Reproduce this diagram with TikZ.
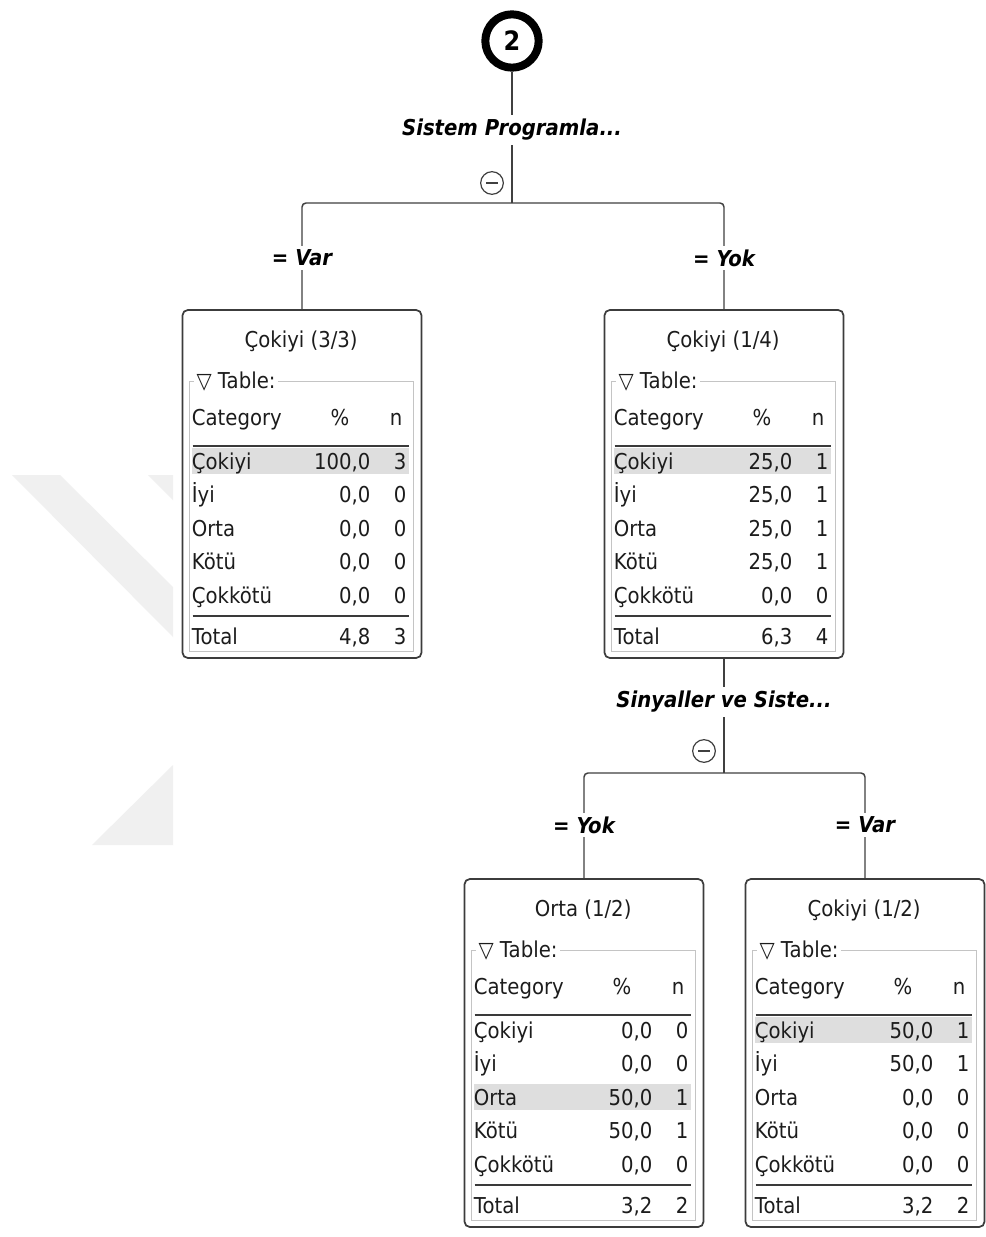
\documentclass[tikz,border=0pt]{standalone}
\usepackage{fontspec}
\setmainfont{DejaVu Sans}[FakeStretch=0.9]
\usetikzlibrary{calc}
\definecolor{txt}{HTML}{1C1C1C}
\definecolor{boxc}{HTML}{3C3C3C}
\definecolor{fsc}{HTML}{C4C4C4}
\definecolor{hlc}{HTML}{DEDEDE}
\definecolor{rulec}{HTML}{3A3A3A}
\definecolor{wmc}{HTML}{F0F0F0}
\definecolor{conc}{HTML}{404040}
\tikzset{
 every node/.style={inner sep=0pt, text=txt},
 bodyf/.style={font=\fontsize{16.4}{19}\selectfont},
 labf/.style={font=\fontsize{16.4}{19}\selectfont\bfseries\itshape, fill=white, inner sep=3pt, text=black},
 leaf/.style={draw=boxc, line width=1.3pt, rounded corners=4pt, minimum width=179.25pt, minimum height=261pt, fill=white},
 conn/.style={draw=conc, line width=1.1pt},
 fsline/.style={draw=fsc, line width=0.8pt},
 rulel/.style={draw=rulec, line width=1.3pt},
 minusc/.style={circle, draw=conc, line width=0.9pt, minimum size=17pt},
}
% box decoration: name, title, highlighted row
\newcommand{\leafhead}[3]{%
 \begin{scope}[shift={(#1.north west)}]
  \pgfmathsetmacro\hy{152+33.5*(#3-1)}
  \fill[hlc] (10,{\hy-13}) rectangle (227,{\hy+13});
  \node[bodyf] (#1-t) at (119.5,32) {#2};
  \draw[fsline] (8,72) -- (8,342) -- (232,342) -- (232,72) -- cycle;
  \node[bodyf, anchor=west, fill=white, inner xsep=2pt, inner ysep=1pt] (#1-lg) at (12,72) {▽ Table:};
  \node[bodyf, anchor=base west] (#1-hc) at (10,116) {Category};
  \node[bodyf, anchor=base east] (#1-hp) at (168,116) {\%};
  \node[bodyf, anchor=base east] (#1-hn) at (221,116) {n};
  \draw[rulel] (11,137) -- (227,137);
  \draw[rulel] (11,307) -- (227,307);
 \end{scope}}
% row: name, id, baseline y, label, pct, n
\newcommand{\lrow}[6]{%
 \begin{scope}[shift={(#1.north west)}]
  \node[bodyf, anchor=base west] (#1-a#2) at (10,#3) {#4};
  \node[bodyf, anchor=base east] (#1-b#2) at (189,#3) {#5};
  \node[bodyf, anchor=base east] (#1-c#2) at (225,#3) {#6};
 \end{scope}}
\begin{document}
\begin{tikzpicture}[x=0.75pt,y=-0.75pt]
\useasboundingbox (0,0) rectangle (985,1237);
\fill[white] (0,0) rectangle (985,1237);
% watermark
\fill[wmc] (12,475) -- (60,475) -- (173,587) -- (173,637) -- cycle;
\fill[wmc] (148,475) -- (173,475) -- (173,500) -- cycle;
\fill[wmc] (173,765) -- (173,845) -- (92,845) -- cycle;

% root
\node[circle, draw=black, line width=6pt, minimum size=40pt, font=\fontsize{20}{24}\selectfont\bfseries, text=black] (c2) at (512,41) {2};
\coordinate (s1) at (512,203);
\coordinate (s2) at (724,773);

% leaves
\node[leaf] (L1) at (302,484) {};
\node[leaf] (R1) at (724,484) {};
\node[leaf] (L2) at (584,1053) {};
\node[leaf] (R2) at (865,1053) {};

% connectors
\draw[conn] (c2) -- (s1);
\draw[conn, rounded corners=3pt] (L1.north) |- (s1) -| (R1.north);
\draw[conn] (R1.south) -- (s2);
\draw[conn, rounded corners=3pt] (L2.north) |- (s2) -| (R2.north);

% split labels
\node[labf] (q1) at (512,130) {Sistem Programla...};
\node[minusc] (m1) at (492,183) {};
\draw[conc, line width=0.9pt] ($(m1.center)+(-6,0)$) -- ($(m1.center)+(6,0)$);
\node[labf] (e1) at (302,258) {= Var};
\node[labf] (e2) at (724,258) {= Yok};

\node[labf] (q2) at (724,702) {Sinyaller ve Siste...};
\node[minusc] (m2) at (704,751) {};
\draw[conc, line width=0.9pt] ($(m2.center)+(-6,0)$) -- ($(m2.center)+(6,0)$);
\node[labf] (e3) at (584,825) {= Yok};
\node[labf] (e4) at (865,825) {= Var};

% leaf L1
\leafhead{L1}{Çokiyi (3/3)}{1}
\lrow{L1}{1}{160}{Çokiyi}{100,0}{3}
\lrow{L1}{2}{193.5}{İyi}{0,0}{0}
\lrow{L1}{3}{227}{Orta}{0,0}{0}
\lrow{L1}{4}{260.5}{Kötü}{0,0}{0}
\lrow{L1}{5}{294}{Çokkötü}{0,0}{0}
\lrow{L1}{6}{335}{Total}{4,8}{3}

% leaf R1
\leafhead{R1}{Çokiyi (1/4)}{1}
\lrow{R1}{1}{160}{Çokiyi}{25,0}{1}
\lrow{R1}{2}{193.5}{İyi}{25,0}{1}
\lrow{R1}{3}{227}{Orta}{25,0}{1}
\lrow{R1}{4}{260.5}{Kötü}{25,0}{1}
\lrow{R1}{5}{294}{Çokkötü}{0,0}{0}
\lrow{R1}{6}{335}{Total}{6,3}{4}

% leaf L2
\leafhead{L2}{Orta (1/2)}{3}
\lrow{L2}{1}{160}{Çokiyi}{0,0}{0}
\lrow{L2}{2}{193.5}{İyi}{0,0}{0}
\lrow{L2}{3}{227}{Orta}{50,0}{1}
\lrow{L2}{4}{260.5}{Kötü}{50,0}{1}
\lrow{L2}{5}{294}{Çokkötü}{0,0}{0}
\lrow{L2}{6}{335}{Total}{3,2}{2}

% leaf R2
\leafhead{R2}{Çokiyi (1/2)}{1}
\lrow{R2}{1}{160}{Çokiyi}{50,0}{1}
\lrow{R2}{2}{193.5}{İyi}{50,0}{1}
\lrow{R2}{3}{227}{Orta}{0,0}{0}
\lrow{R2}{4}{260.5}{Kötü}{0,0}{0}
\lrow{R2}{5}{294}{Çokkötü}{0,0}{0}
\lrow{R2}{6}{335}{Total}{3,2}{2}
\end{tikzpicture}
\end{document}
